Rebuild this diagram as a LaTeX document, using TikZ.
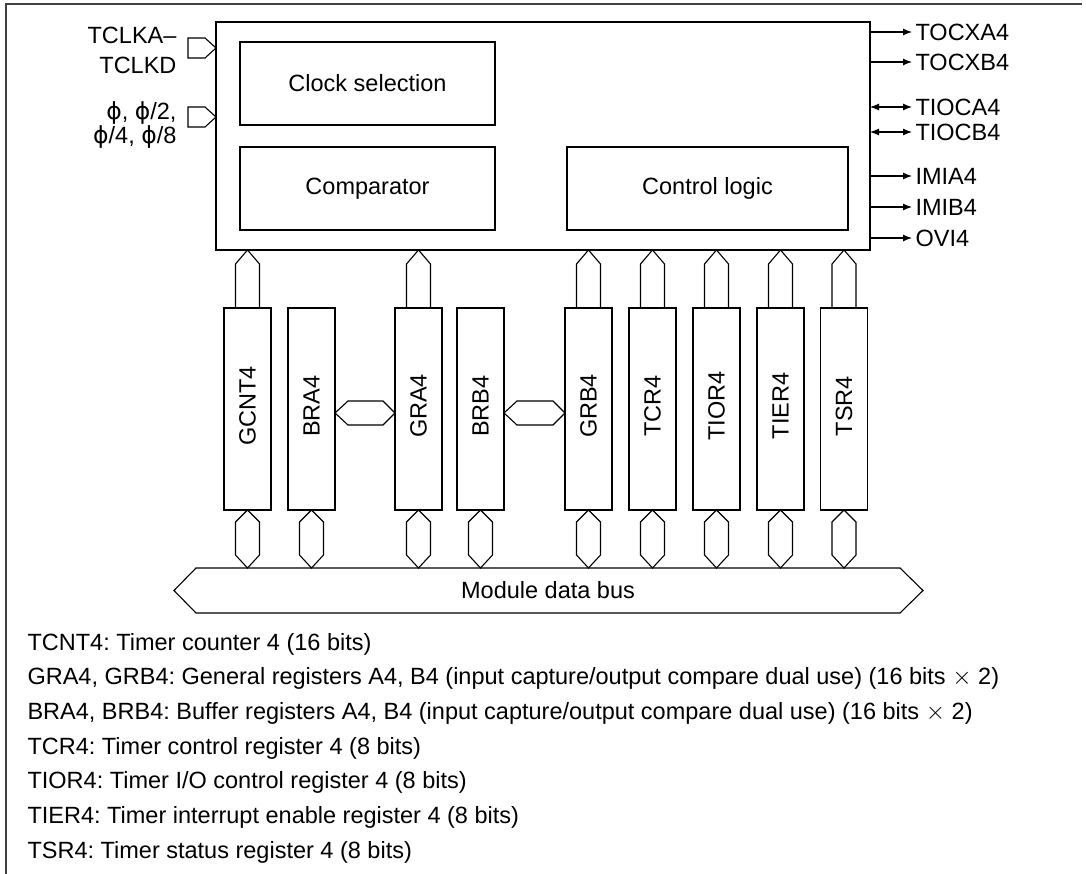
\documentclass[tikz,border=0pt]{standalone}
\usepackage{fontspec}
\setmainfont{Liberation Sans}
\newfontfamily\greekfont{DejaVu Sans}
\newcommand{\phisym}{{\greekfont ϕ}}
\frenchspacing
\usetikzlibrary{arrows.meta, positioning, calc}

\begin{document}
\begin{tikzpicture}[
    x=1pt, y=-1pt,
    font=\fontsize{23.5}{28}\selectfont,
    line width=1.1pt,
    block/.style={draw, inner sep=0pt, outer sep=0pt, minimum height=83pt},
    reg/.style={draw, inner sep=0pt, outer sep=0pt, minimum width=47pt, minimum height=202pt},
    sig/.style={anchor=west, inner sep=3pt},
    outsig/.style={-{Latex[length=9pt, width=7pt]}},
    iosig/.style={{Latex[length=9pt, width=7pt]}-{Latex[length=9pt, width=7pt]}}
]
    \useasboundingbox (0,0) rectangle (1086,874);
    \draw[black!75, line width=1.4pt] (6,874) -- (6,4) -- (1082,4);

    % timer channel 4 block
    \node[draw, inner sep=0pt, outer sep=0pt, minimum width=654pt, minimum height=228pt, anchor=north west] (timer) at (216,22) {};
    \node[block, minimum width=255pt, anchor=north west] (clksel) at (240,42) {Clock selection};
    \node[block, minimum width=255pt, below=22pt of clksel] (cmp) {Comparator};
    \node[block, minimum width=281pt, anchor=north west] (ctrl) at (567,147) {Control logic};

    % registers
    \foreach \name/\x in {GCNT4/247.5, BRA4/311.5, GRA4/418.5, BRB4/480.5, GRB4/588.5, TCR4/652.5, TIOR4/716.5, TIER4/780.5, TSR4/844}
        \node[reg] (\name) at (\x,409) {\rotatebox{90}{\name}\rule[-6pt]{0pt}{0pt}};

    % module data bus
    \node[inner sep=0pt, outer sep=0pt, minimum width=704pt, minimum height=45pt] (bus) at (548,590.5) {Module data bus};
    \draw (bus.north west) -- (bus.north east) -- ($(bus.east)+(23,0)$) -- (bus.south east) -- (bus.south west) -- ($(bus.west)+(-22,0)$) -- cycle;

    % register to timer block
    \foreach \name in {GCNT4, GRA4, GRB4, TCR4, TIOR4, TIER4, TSR4}
        \draw ($(\name.north)+(-12,0)$) -- ($(\name.north |- timer.south)+(-12,14)$) -- (\name.north |- timer.south) -- ($(\name.north |- timer.south)+(12,14)$) -- ($(\name.north)+(12,0)$);

    % register to bus
    \foreach \name in {GCNT4, BRA4, GRA4, BRB4, GRB4, TCR4, TIOR4, TIER4, TSR4}
        \draw (\name.south) -- ($(\name.south)+(12,12)$) -- ($(\name.south |- bus.north)+(12,-13)$) -- (\name.south |- bus.north) -- ($(\name.south |- bus.north)+(-12,-13)$) -- ($(\name.south)+(-12,12)$) -- cycle;

    % buffer to general register
    \foreach \a/\b in {BRA4/GRA4, BRB4/GRB4}
        \draw ([yshift=-4pt]\a.east) -- ($(\a.east)+(13,-8)$) -- ($(\b.west)+(-12,-8)$) -- ([yshift=-4pt]\b.west) -- ($(\b.west)+(-12,16)$) -- ($(\a.east)+(13,16)$) -- cycle;

    % clock inputs
    \node[anchor=east, align=right, inner sep=0pt, font=\fontsize{23.5}{30}\selectfont] (tclk) at (177,50) {TCLKA–\\TCLKD};
    \node[anchor=east, align=right, inner sep=0pt, font=\fontsize{23.5}{22}\selectfont] (phi) at (177,125) {\phisym, \phisym/2,\\\phisym/4, \phisym/8};
    \coordinate (tclkin) at ($(timer.north west)+(0,26)$);
    \coordinate (phiin) at ($(timer.north west)+(0,95)$);
    \foreach \c in {tclkin, phiin}
        \draw (\c) -- ++(-11,-10) -- ++(-17,0) -- ++(0,20) -- ++(17,0) -- cycle;

    % output signals
    \foreach \lbl/\yy/\st in {TOCXA4/32/outsig, TOCXB4/62/outsig, TIOCA4/107/iosig, TIOCB4/132/iosig, IMIA4/176/outsig, IMIB4/207/outsig, OVI4/238/outsig}
    {
        \node[sig] (\lbl) at (912,\yy) {\lbl};
        \draw[\st] (timer.east |- \lbl.west) -- (\lbl.west);
    }

    % legend
    \foreach \txt [count=\i from 0] in {
        {TCNT4: Timer counter 4 (16 bits)},
        {GRA4, GRB4: General registers A4, B4 (input capture/output compare dual use) (16 bits $\times$ 2)},
        {BRA4, BRB4: Buffer registers A4, B4 (input capture/output compare dual use) (16 bits $\times$ 2)},
        {TCR4: Timer control register 4 (8 bits)},
        {TIOR4: Timer I/O control register 4 (8 bits)},
        {TIER4: Timer interrupt enable register 4 (8 bits)},
        {TSR4: Timer status register 4 (8 bits)}}
        \node[anchor=base west, inner sep=0pt] (leg\i) at (27,{650+34.7*\i}) {\txt};
\end{tikzpicture}
\end{document}
